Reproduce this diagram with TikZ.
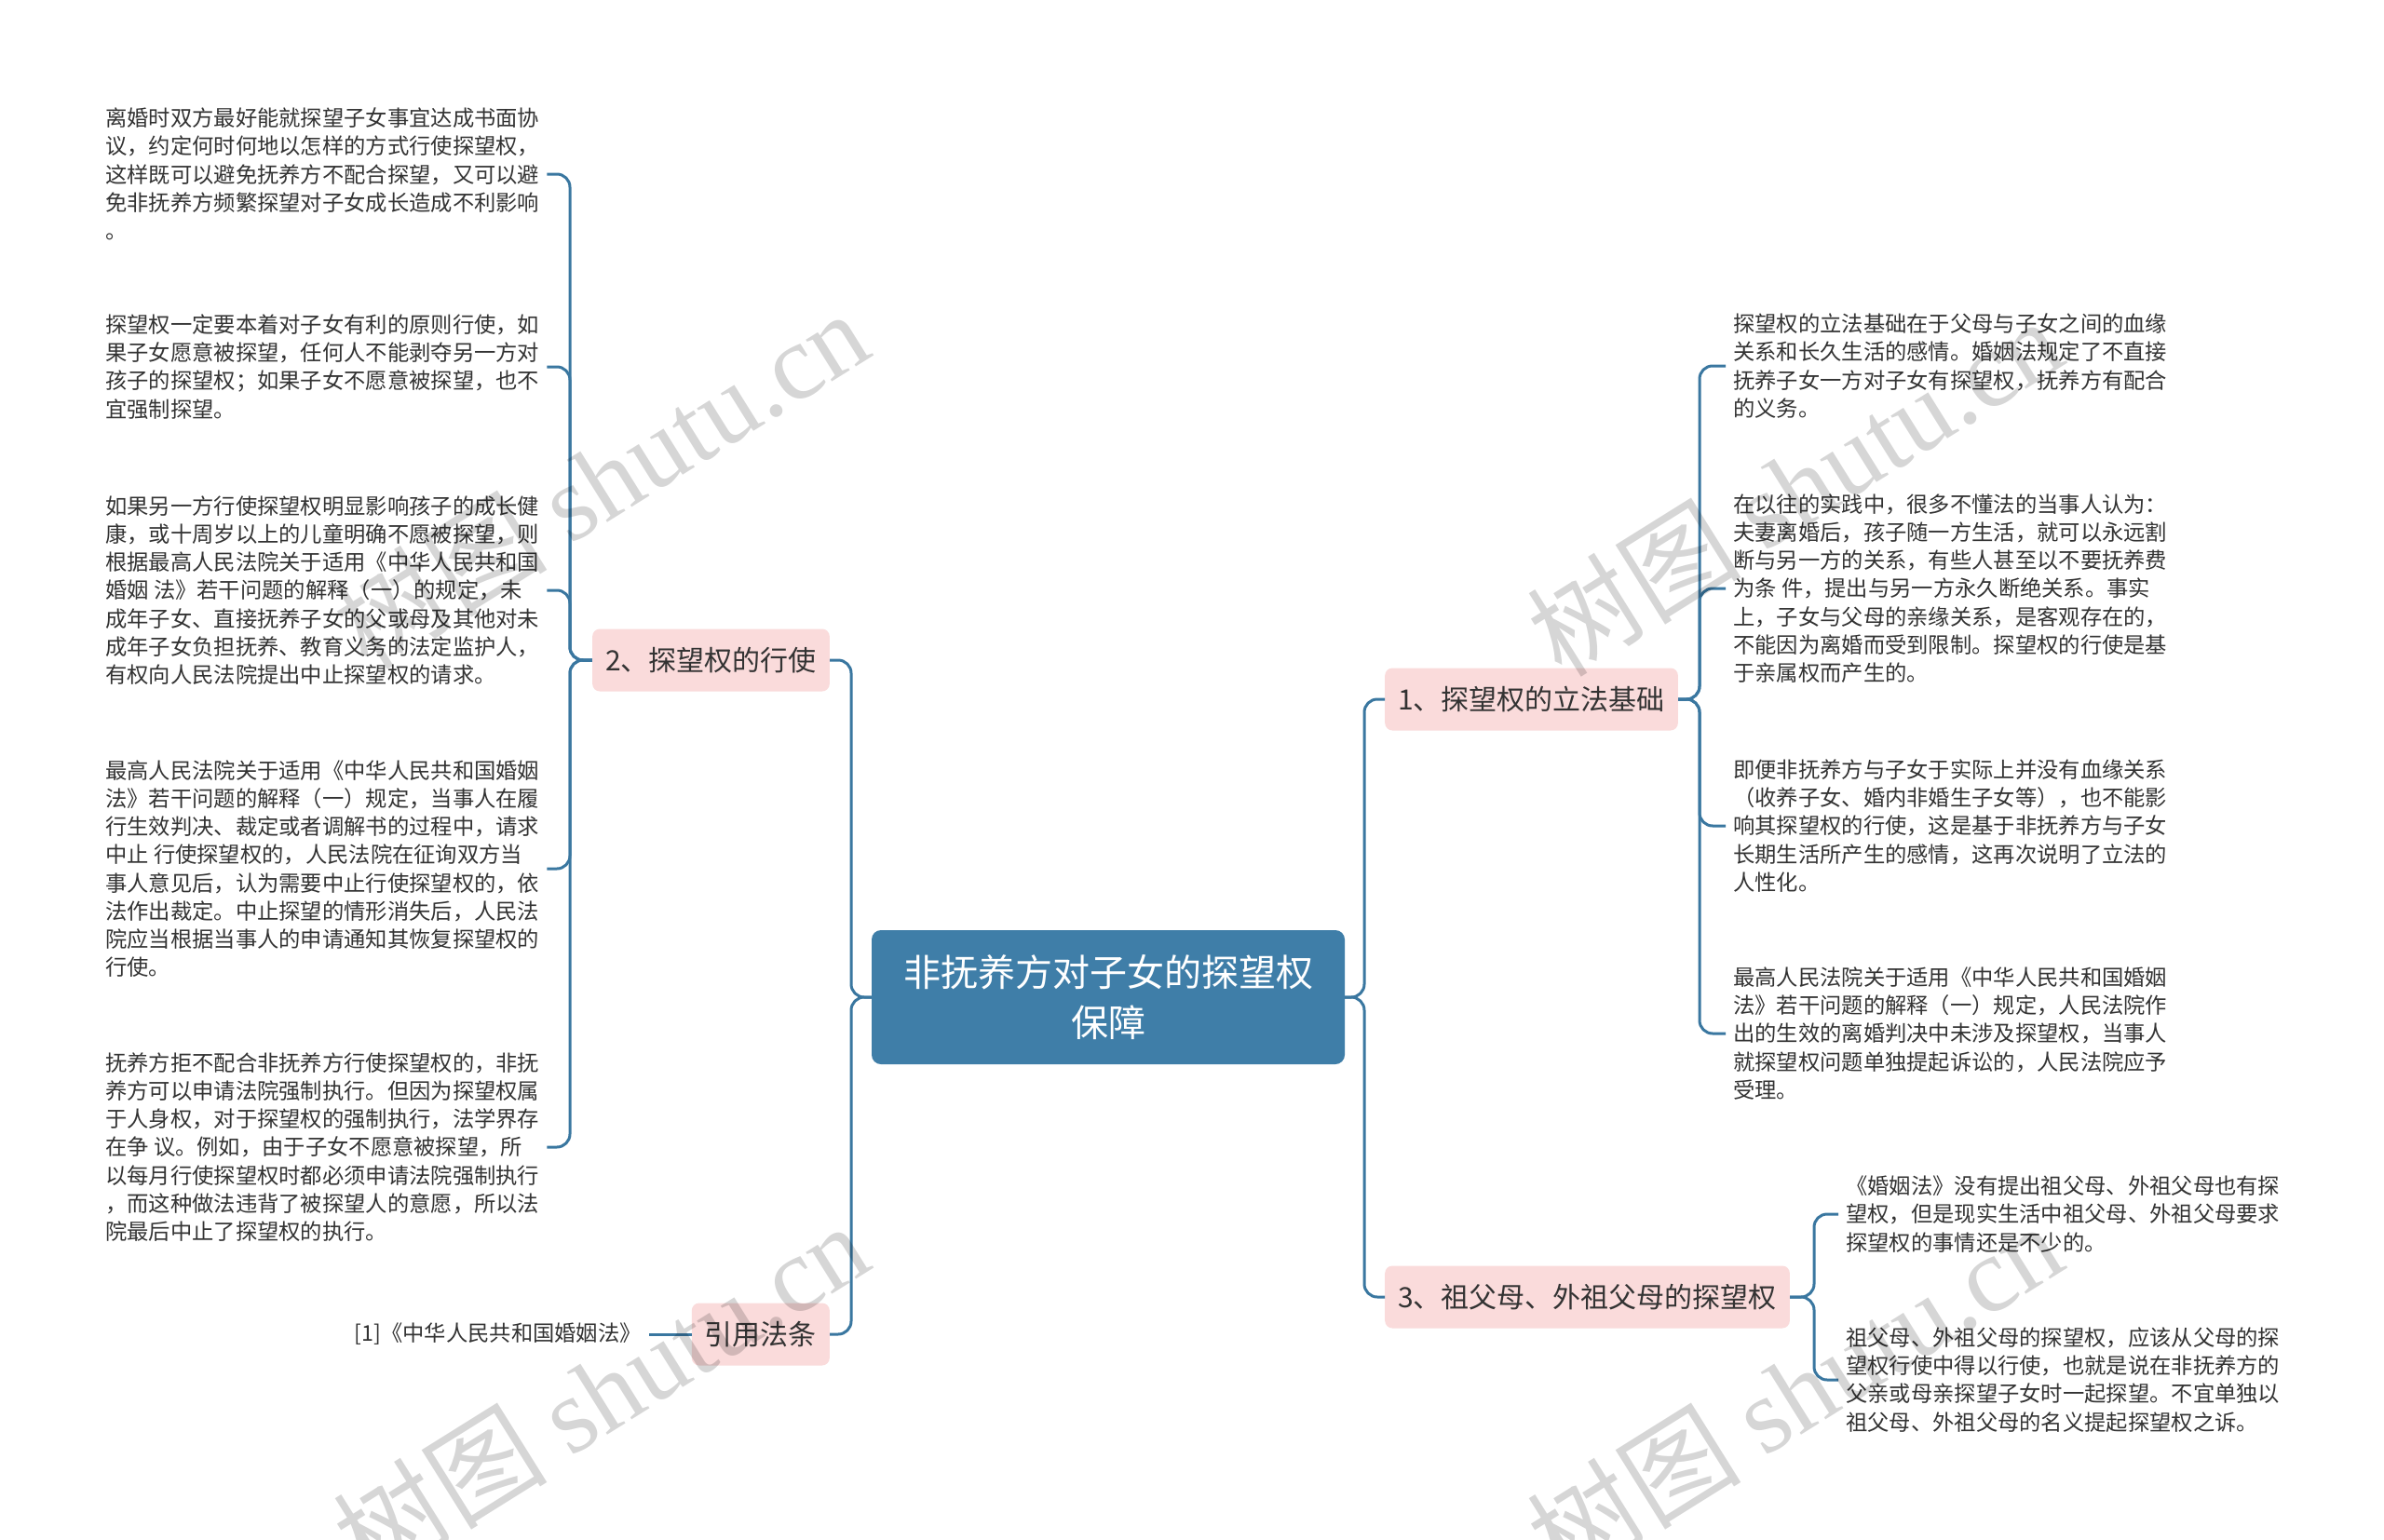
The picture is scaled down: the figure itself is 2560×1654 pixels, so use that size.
\documentclass[tikz,border=0pt]{standalone}
\usepackage{fontspec}
\setmainfont{Noto Sans CJK SC}
\newfontfamily\wmserif{Liberation Serif}
\definecolor{rootblue}{HTML}{3F7EA8}
\definecolor{lineblue}{HTML}{3A77A0}
\definecolor{pinkfill}{HTML}{FADBDB}
\definecolor{textgray}{HTML}{333333}
\begin{document}
\begin{tikzpicture}[x=1pt,y=-1pt,
  leaf/.style={font=\fontsize{23.3}{30.2}\selectfont, text=textgray, align=left, inner xsep=8pt, inner ysep=4pt},
  branch/.style={fill=pinkfill, rounded corners=8pt, font=\fontsize{30}{36}\selectfont, text=textgray, minimum height=67pt, inner xsep=14pt},
  rootbox/.style={fill=rootblue, rounded corners=10pt, text=white, font=\fontsize{40}{54}\selectfont, align=center, minimum width=508pt, minimum height=144pt},
  conn/.style={draw=lineblue, line width=3pt, rounded corners=14pt},
  wm/.style={text=black, text opacity=0.16, rotate=32, font=\fontsize{115}{120}\selectfont}
]
\fill[white] (0,0) rectangle (2560,1654);
\useasboundingbox (0,0) rectangle (2560,1654);

% root
\node[rootbox] (root) at (1190,1071) {非抚养方对子女的探望权\\保障};

% branches
\node[branch, anchor=east] (b2) at (891,709) {2、探望权的行使};
\node[branch, anchor=east] (b4) at (891,1433) {引用法条};
\node[branch, anchor=west] (b1) at (1487,751) {1、探望权的立法基础};
\node[branch, anchor=west] (b3) at (1487,1393) {3、祖父母、外祖父母的探望权};

% left leaves
\node[leaf, anchor=west] (l1) at (105,187) {离婚时双方最好能就探望子女事宜达成书面协\\议，约定何时何地以怎样的方式行使探望权，\\这样既可以避免抚养方不配合探望，又可以避\\免非抚养方频繁探望对子女成长造成不利影响\\。};
\node[leaf, anchor=west] (l2) at (105,394) {探望权一定要本着对子女有利的原则行使，如\\果子女愿意被探望，任何人不能剥夺另一方对\\孩子的探望权；如果子女不愿意被探望，也不\\宜强制探望。};
\node[leaf, anchor=west] (l3) at (105,634) {如果另一方行使探望权明显影响孩子的成长健\\康，或十周岁以上的儿童明确不愿被探望，则\\根据最高人民法院关于适用《中华人民共和国\\婚姻 法》若干问题的解释（一）的规定，未\\成年子女、直接抚养子女的父或母及其他对未\\成年子女负担抚养、教育义务的法定监护人，\\有权向人民法院提出中止探望权的请求。};
\node[leaf, anchor=west] (l4) at (105,933) {最高人民法院关于适用《中华人民共和国婚姻\\法》若干问题的解释（一）规定，当事人在履\\行生效判决、裁定或者调解书的过程中，请求\\中止 行使探望权的，人民法院在征询双方当\\事人意见后，认为需要中止行使探望权的，依\\法作出裁定。中止探望的情形消失后，人民法\\院应当根据当事人的申请通知其恢复探望权的\\行使。};
\node[leaf, anchor=west] (l5) at (105,1232) {抚养方拒不配合非抚养方行使探望权的，非抚\\养方可以申请法院强制执行。但因为探望权属\\于人身权，对于探望权的强制执行，法学界存\\在争 议。例如，由于子女不愿意被探望，所\\以每月行使探望权时都必须申请法院强制执行\\，而这种做法违背了被探望人的意愿，所以法\\院最后中止了探望权的执行。};
\node[leaf, anchor=east] (cite) at (697,1433) {[1]《中华人民共和国婚姻法》};

% right leaves
\node[leaf, anchor=west] (r1) at (1853,393) {探望权的立法基础在于父母与子女之间的血缘\\关系和长久生活的感情。婚姻法规定了不直接\\抚养子女一方对子女有探望权，抚养方有配合\\的义务。};
\node[leaf, anchor=west] (r2) at (1853,632) {在以往的实践中，很多不懂法的当事人认为：\\夫妻离婚后，孩子随一方生活，就可以永远割\\断与另一方的关系，有些人甚至以不要抚养费\\为条 件，提出与另一方永久断绝关系。事实\\上，子女与父母的亲缘关系，是客观存在的，\\不能因为离婚而受到限制。探望权的行使是基\\于亲属权而产生的。};
\node[leaf, anchor=west] (r3) at (1853,887) {即便非抚养方与子女于实际上并没有血缘关系\\（收养子女、婚内非婚生子女等），也不能影\\响其探望权的行使，这是基于非抚养方与子女\\长期生活所产生的感情，这再次说明了立法的\\人性化。};
\node[leaf, anchor=west] (r4) at (1853,1110) {最高人民法院关于适用《中华人民共和国婚姻\\法》若干问题的解释（一）规定，人民法院作\\出的生效的离婚判决中未涉及探望权，当事人\\就探望权问题单独提起诉讼的，人民法院应予\\受理。};
\node[leaf, anchor=west] (r5) at (1974,1304) {《婚姻法》没有提出祖父母、外祖父母也有探\\望权，但是现实生活中祖父母、外祖父母要求\\探望权的事情还是不少的。};
\node[leaf, anchor=west] (r6) at (1974,1482) {祖父母、外祖父母的探望权，应该从父母的探\\望权行使中得以行使，也就是说在非抚养方的\\父亲或母亲探望子女时一起探望。不宜单独以\\祖父母、外祖父母的名义提起探望权之诉。};

% spine coordinates
\coordinate (sl) at (914,1071);
\coordinate (sr) at (1465,1071);
\coordinate (s2) at (612,709);
\coordinate (s1) at (1825,751);
\coordinate (s3) at (1948,1393);

% connectors
\draw[conn] (root.west) -- (sl) |- (b2.east);
\draw[conn] (root.west) -- (sl) |- (b4.east);
\draw[conn] (root.east) -- (sr) |- (b1.west);
\draw[conn] (root.east) -- (sr) |- (b3.west);
\foreach \n in {l1,l2,l3,l4,l5} \draw[conn] (b2.west) -- (s2) |- (\n.east);
\foreach \n in {r1,r2,r3,r4} \draw[conn] (b1.east) -- (s1) |- (\n.west);
\foreach \n in {r5,r6} \draw[conn] (b3.east) -- (s3) |- (\n.west);
\draw[conn] (b4.west) -- (cite.east);

% watermarks
\node[wm] (w1) at (645,514) {树图 {\wmserif shutu.cn}};
\node[wm] (w2) at (1927,522) {树图 {\wmserif shutu.cn}};
\node[wm] (w3) at (645,1494) {树图 {\wmserif shutu.cn}};
\node[wm] (w4) at (1927,1494) {树图 {\wmserif shutu.cn}};
\end{tikzpicture}
\end{document}
